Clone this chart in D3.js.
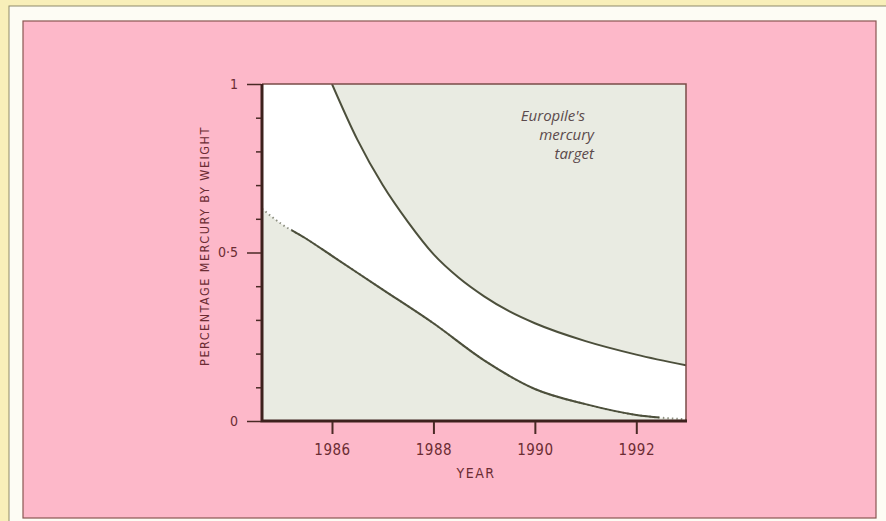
<!DOCTYPE html>
<html>
<head>
<meta charset="utf-8">
<script src="https://cdn.jsdelivr.net/npm/d3@7"></script>
<style>
    html, body { margin: 0; padding: 0; background: #f8efb9; }
    svg { display: block; }
</style>
</head>
<body>
<div id="chart"></div>
<script>
// values
const xDomain = [1984.62, 1992.98]
const xTicks = [1986, 1988, 1990, 1992]
const yMajorTicks = [0, 0.5, 1]
const yMinorTicks = [0.1, 0.2, 0.3, 0.4, 0.6, 0.7, 0.8, 0.9]

const upperYears = [1986, 1986.5, 1987, 1987.5, 1988, 1988.5, 1989, 1989.5, 1990, 1991, 1992, 1992.98]
const upperValues = [1.0, 0.835, 0.70, 0.59, 0.495, 0.425, 0.37, 0.325, 0.29, 0.237, 0.197, 0.165]

const lowerYears = [1984.62, 1985, 1985.5, 1986, 1987, 1988, 1989, 1990, 1991, 1992, 1992.98]
const lowerValues = [0.63, 0.585, 0.54, 0.49, 0.39, 0.29, 0.18, 0.095, 0.05, 0.018, 0.005]
const lowerSolid = [1985.2, 1992.45]

const noteLines = ["Europile's", "mercury", "target"]

const ink = '#6b2c33'

const svg = d3.select('#chart').append('svg')
    .attr('width', 886)
    .attr('height', 521)

// paper: white border and the pink panel
svg.append('rect')
    .attr('x', 9).attr('y', 6).attr('width', 880).attr('height', 520)
    .attr('fill', '#fdfcf4').attr('stroke', '#8d8a6a').attr('stroke-width', 1)
svg.append('rect')
    .attr('x', 23).attr('y', 21).attr('width', 853).attr('height', 497)
    .attr('fill', '#fdb8c9').attr('stroke', '#8a5652').attr('stroke-width', 1.2)

const x = d3.scaleLinear().domain(xDomain).range([262, 686])
const y = d3.scaleLinear().domain([0, 1]).range([421, 84])

const upper = upperYears.map((d, i) => ({ year: d, value: upperValues[i] }))
const lower = lowerYears.map((d, i) => ({ year: d, value: lowerValues[i] }))

svg.append('clipPath').attr('id', 'plot-clip')
    .append('rect')
    .attr('x', x(xDomain[0])).attr('y', y(1))
    .attr('width', x(xDomain[1]) - x(xDomain[0]))
    .attr('height', y(0) - y(1))

const plot = svg.append('g').attr('clip-path', 'url(#plot-clip)')

// grey background of the plot
plot.append('rect')
    .attr('x', x(xDomain[0])).attr('y', y(1))
    .attr('width', x(xDomain[1]) - x(xDomain[0]))
    .attr('height', y(0) - y(1))
    .attr('fill', '#e9ebe2')

// white band: everything under the upper curve ...
const area = d3.area()
    .x(d => x(d.year))
    .y0(y(0))
    .y1(d => y(d.value))
    .curve(d3.curveMonotoneX)

plot.append('rect')
    .attr('x', x(xDomain[0])).attr('y', y(1))
    .attr('width', x(upperYears[0]) - x(xDomain[0]) + 1)
    .attr('height', y(0) - y(1))
    .attr('fill', '#ffffff')
plot.append('path').datum(upper).attr('d', area).attr('fill', '#ffffff')

// ... minus what is under the lower curve
plot.append('path').datum(lower).attr('d', area).attr('fill', '#e9ebe2')

const line = d3.line()
    .x(d => x(d.year))
    .y(d => y(d.value))
    .curve(d3.curveMonotoneX)

plot.append('path').datum(upper)
    .attr('d', line)
    .attr('fill', 'none').attr('stroke', '#4c4f3b').attr('stroke-width', 2)

// lower curve: solid in the middle, dotted at both ends
svg.append('clipPath').attr('id', 'solid-clip')
    .append('rect')
    .attr('x', x(lowerSolid[0])).attr('y', 0)
    .attr('width', x(lowerSolid[1]) - x(lowerSolid[0])).attr('height', 521)

plot.append('path').datum(lower)
    .attr('d', line)
    .attr('fill', 'none').attr('stroke', '#8d8f80').attr('stroke-width', 2)
    .attr('stroke-dasharray', '1.5 3')
plot.append('g').attr('clip-path', 'url(#solid-clip)')
    .append('path').datum(lower)
    .attr('d', line)
    .attr('fill', 'none').attr('stroke', '#4c4f3b').attr('stroke-width', 2)

// frame: thick left and bottom, thin top and right
svg.append('path')
    .attr('d', `M${x(xDomain[0])},${y(1)}H${x(xDomain[1])}V${y(0)}`)
    .attr('fill', 'none').attr('stroke', '#7a4c48').attr('stroke-width', 1.5)
svg.append('path')
    .attr('d', `M${x(xDomain[0])},${y(1)}V${y(0)}H${x(xDomain[1]) + 1}`)
    .attr('fill', 'none').attr('stroke', '#3d211d').attr('stroke-width', 3)

// x axis
const xAxis = svg.append('g')
    .attr('transform', `translate(0,${y(0) + 1})`)
    .call(d3.axisBottom(x).tickValues(xTicks).tickSize(12).tickPadding(10).tickFormat(d3.format('d')))
xAxis.select('.domain').remove()
xAxis.selectAll('.tick line').attr('stroke', '#4a2a26').attr('stroke-width', 2)
xAxis.selectAll('.tick text')
    .attr('fill', ink)
    .style('font-family', '"DejaVu Sans Condensed", "DejaVu Sans", sans-serif')
    .style('font-size', '15px')
    .style('letter-spacing', '0.5px')

// y axis, major ticks with labels
const yAxis = svg.append('g')
    .attr('transform', `translate(${x(xDomain[0]) - 1},0)`)
    .call(d3.axisLeft(y).tickValues(yMajorTicks).tickSize(14).tickPadding(9)
        .tickFormat(d => d === 0.5 ? '0·5' : d))
yAxis.select('.domain').remove()
yAxis.selectAll('.tick line').attr('stroke', '#4a2a26').attr('stroke-width', 1.5)
yAxis.selectAll('.tick text')
    .attr('fill', ink)
    .style('font-family', '"DejaVu Sans Condensed", "DejaVu Sans", sans-serif')
    .style('font-size', '14px')

// y axis, minor ticks
const yMinor = svg.append('g')
    .attr('transform', `translate(${x(xDomain[0]) - 1},0)`)
    .call(d3.axisLeft(y).tickValues(yMinorTicks).tickSize(5).tickFormat(''))
yMinor.select('.domain').remove()
yMinor.selectAll('.tick line').attr('stroke', '#4a2a26').attr('stroke-width', 1.5)

// axis titles
svg.append('text')
    .attr('x', 476).attr('y', 478)
    .attr('text-anchor', 'middle')
    .attr('fill', ink)
    .style('font-family', '"DejaVu Sans Condensed", "DejaVu Sans", sans-serif')
    .style('font-size', '14px')
    .style('letter-spacing', '1.5px')
    .text('YEAR')

svg.append('text')
    .attr('transform', 'translate(209,246) rotate(-90)')
    .attr('text-anchor', 'middle')
    .attr('fill', ink)
    .style('font-family', '"DejaVu Sans Condensed", "DejaVu Sans", sans-serif')
    .style('font-size', '12.5px')
    .style('letter-spacing', '1.5px')
    .text('PERCENTAGE MERCURY BY WEIGHT')

// note in the plot
const note = svg.append('text')
    .attr('text-anchor', 'end')
    .attr('fill', '#5b4a4c')
    .style('font-family', '"Open Sans", sans-serif')
    .style('font-style', 'italic')
    .style('font-size', '15px')
note.selectAll('tspan')
    .data(noteLines)
    .join('tspan')
    .attr('x', (d, i) => i === 0 ? 585 : 594)
    .attr('y', (d, i) => 121 + i * 19)
    .text(d => d)
</script>
</body>
</html>
